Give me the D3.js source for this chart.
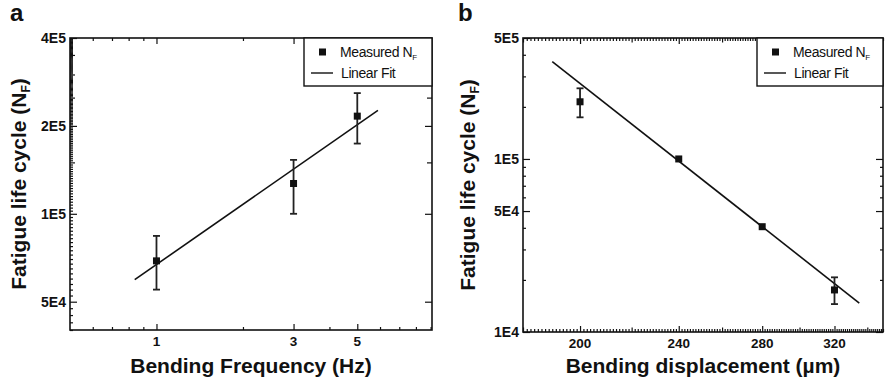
<!DOCTYPE html>
<html>
<head>
<meta charset="utf-8">
<script src="https://cdn.jsdelivr.net/npm/d3@7"></script>
<style>
  html, body { margin: 0; padding: 0; background: #fff; }
  svg { display: block; }
  text { font-family: "Liberation Sans", Arial, sans-serif; fill: #111; }
</style>
</head>
<body>
<svg id="chart" width="885" height="383"></svg>
<script>
// Panel a: fatigue life vs bending frequency
const freqHz = [1, 3, 5];
const freqCycles = [6.9e4, 1.27e5, 2.16e5];
const freqErrLow = [5.5e4, 1.0e5, 1.74e5];
const freqErrHigh = [8.4e4, 1.53e5, 2.59e5];
const freqFitX = [0.84, 5.9];
const freqFitY = [5.95e4, 2.26e5];
const freqXTicks = [1, 3, 5];
const freqXTickLabels = ["1", "3", "5"];
const freqYTicks = [5e4, 1e5, 2e5, 4e5];
const freqYTickLabels = ["5E4", "1E5", "2E5", "4E5"];

// Panel b: fatigue life vs bending displacement
const dispUm = [200, 240, 280, 320];
const dispCycles = [2.14e5, 1.0e5, 4.06e4, 1.75e4];
const dispErrLow = [1.74e5, 1.0e5, 4.06e4, 1.45e4];
const dispErrHigh = [2.56e5, 1.0e5, 4.06e4, 2.07e4];
const dispFitX = [190, 335];
const dispFitY = [3.65e5, 1.47e4];
const dispXTicks = [200, 240, 280, 320];
const dispXTickLabels = ["200", "240", "280", "320"];
const dispYTicks = [1e4, 5e4, 1e5, 5e5];
const dispYTickLabels = ["1E4", "5E4", "1E5", "5E5"];

const svg = d3.select("#chart");

function range(a, b, step) {
  const out = [];
  for (let v = a; v <= b + step * 1e-6; v += step) out.push(+v.toPrecision(10));
  return out;
}

function drawPanel(cfg) {
  const g = svg.append("g");
  const x = d3.scaleLog().domain(cfg.xDomain).range([cfg.left, cfg.right]);
  const y = d3.scaleLog().domain(cfg.yDomain).range([cfg.bottom, cfg.top]);

  // ticks drawn inward on all four sides
  function tickSet(scale, values, len, orient, pos) {
    const axis = (orient === "bottom" ? d3.axisBottom(scale) :
                  orient === "top" ? d3.axisTop(scale) :
                  orient === "left" ? d3.axisLeft(scale) : d3.axisRight(scale))
      .tickValues(values).tickSizeInner(-len).tickSizeOuter(0).tickFormat("");
    const t = orient === "bottom" || orient === "top" ? `translate(0,${pos})` : `translate(${pos},0)`;
    const ag = g.append("g").attr("transform", t).call(axis);
    ag.select(".domain").remove();
    ag.selectAll("line").attr("stroke", "#111").attr("stroke-width", 1.2);
  }

  // x ticks
  tickSet(x, cfg.xMinor, 3, "bottom", cfg.bottom);
  tickSet(x, cfg.xMid, 4.5, "bottom", cfg.bottom);
  tickSet(x, cfg.xTicks, 6, "bottom", cfg.bottom);
  tickSet(x, cfg.xMinor, 3, "top", cfg.top);
  tickSet(x, cfg.xMid, 4.5, "top", cfg.top);
  tickSet(x, cfg.xTicks, 6, "top", cfg.top);
  // y ticks
  tickSet(y, cfg.yMinor, 3, "left", cfg.left);
  tickSet(y, cfg.yMid, 5, "left", cfg.left);
  tickSet(y, cfg.yTicks, 7, "left", cfg.left);
  tickSet(y, cfg.yRightMinor, 3, "right", cfg.right);
  tickSet(y, cfg.yMid, 5, "right", cfg.right);
  tickSet(y, cfg.yTicks, 7, "right", cfg.right);

  // tick labels
  g.append("g").selectAll("text").data(cfg.xTicks).join("text")
    .attr("x", d => x(d)).attr("y", cfg.bottom + cfg.xLabelOffset)
    .attr("text-anchor", "middle").attr("font-size", 13.5).attr("font-weight", "bold")
    .text((d, i) => cfg.xTickLabels[i]);
  g.append("g").selectAll("text").data(cfg.yTicks).join("text")
    .attr("x", cfg.left - 4).attr("y", d => y(d)).attr("dy", "0.36em")
    .attr("text-anchor", "end").attr("font-size", 14).attr("font-weight", "bold")
    .text((d, i) => cfg.yTickLabels[i]);

  // fit line
  const line = d3.line().x(d => x(d[0])).y(d => y(d[1]));
  g.append("path").datum(cfg.fitX.map((v, i) => [v, cfg.fitY[i]]))
    .attr("d", line).attr("fill", "none").attr("stroke", "#111").attr("stroke-width", 1.6);

  // error bars
  const eb = g.append("g").attr("stroke", "#222").attr("stroke-width", 1.8);
  cfg.xs.forEach((xv, i) => {
    if (cfg.errHigh[i] === cfg.errLow[i]) return;
    const cx = x(xv);
    eb.append("line").attr("x1", cx).attr("x2", cx).attr("y1", y(cfg.errLow[i])).attr("y2", y(cfg.errHigh[i]));
    eb.append("line").attr("x1", cx - 3.5).attr("x2", cx + 3.5).attr("y1", y(cfg.errLow[i])).attr("y2", y(cfg.errLow[i]));
    eb.append("line").attr("x1", cx - 3.5).attr("x2", cx + 3.5).attr("y1", y(cfg.errHigh[i])).attr("y2", y(cfg.errHigh[i]));
  });

  // measured points
  const s = 7;
  g.append("g").selectAll("rect").data(cfg.xs).join("rect")
    .attr("x", d => x(d) - s / 2).attr("y", (d, i) => y(cfg.ys[i]) - s / 2)
    .attr("width", s).attr("height", s).attr("fill", "#111");

  // frame
  g.append("rect").attr("x", cfg.left).attr("y", cfg.top)
    .attr("width", cfg.right - cfg.left).attr("height", cfg.bottom - cfg.top)
    .attr("fill", "none").attr("stroke", "#111").attr("stroke-width", 1.6);

  // legend
  const lg = g.append("g");
  lg.append("rect").attr("x", cfg.legendLeft).attr("y", cfg.top)
    .attr("width", cfg.right - cfg.legendLeft).attr("height", 48)
    .attr("fill", "#fff").attr("stroke", "#111").attr("stroke-width", 1.4);
  lg.append("rect").attr("x", cfg.legendLeft + 15).attr("y", cfg.top + 10.5)
    .attr("width", 7).attr("height", 7).attr("fill", "#111");
  const t1 = lg.append("text").attr("x", cfg.legendLeft + 36).attr("y", cfg.top + 19)
    .attr("font-size", 14).attr("letter-spacing", -0.4);
  t1.append("tspan").text("Measured N");
  t1.append("tspan").attr("font-size", 8).attr("dy", 3).text("F");
  lg.append("line").attr("x1", cfg.legendLeft + 7).attr("x2", cfg.legendLeft + 29)
    .attr("y1", cfg.top + 35).attr("y2", cfg.top + 35).attr("stroke", "#111").attr("stroke-width", 1.4);
  lg.append("text").attr("x", cfg.legendLeft + 37).attr("y", cfg.top + 40)
    .attr("font-size", 14).attr("letter-spacing", -0.4).text("Linear Fit");

  // axis titles
  g.append("text").attr("x", (cfg.left + cfg.right) / 2).attr("y", 373)
    .attr("text-anchor", "middle").attr("font-size", 21).attr("font-weight", "bold")
    .text(cfg.xTitle);
  const yt = g.append("text")
    .attr("transform", `translate(${cfg.yTitleX},${(cfg.top + cfg.bottom) / 2}) rotate(-90)`)
    .attr("text-anchor", "middle").attr("font-size", 21).attr("font-weight", "bold");
  yt.append("tspan").text("Fatigue life cycle (N");
  yt.append("tspan").attr("font-size", 12).attr("dy", 4).text("F");
  yt.append("tspan").attr("dy", -4).text(")");

  // panel letter
  g.append("text").attr("x", cfg.letterX).attr("y", 21)
    .attr("font-size", 24).attr("font-weight", "bold").text(cfg.letter);
}

// minor tick values for panel a (linear steps inside each log interval)
const aYMinor = range(4e4, 4e5, 2.5e3).filter(v => !freqYTicks.includes(v) && v % 5e4 !== 0);
const aYMid = range(5e4, 4e5, 5e4).filter(v => !freqYTicks.includes(v));
const aXMinor = [0.6, 0.7, 0.8, 0.9, 2, 4, 6, 7, 8, 9];

drawPanel({
  letter: "a", letterX: 10,
  left: 70, right: 432, top: 38, bottom: 330,
  xDomain: [0.5, 9.1], yDomain: [4e4, 4e5],
  xs: freqHz, ys: freqCycles, errLow: freqErrLow, errHigh: freqErrHigh,
  fitX: freqFitX, fitY: freqFitY,
  xTicks: freqXTicks, xTickLabels: freqXTickLabels, xMinor: aXMinor, xMid: [],
  yTicks: freqYTicks, yTickLabels: freqYTickLabels,
  yMinor: aYMinor, yMid: aYMid, yRightMinor: [],
  xLabelOffset: 16,
  legendLeft: 304,
  xTitle: "Bending Frequency (Hz)", yTitleX: 26
});

// minor tick values for panel b
const bXAll = range(180, 350, 1.25);
const bXMid = range(180, 340, 20).filter(v => !dispXTicks.includes(v));
const bXMinor = bXAll.filter(v => v % 20 !== 0);
const bYMinor = [2e4, 3e4, 4e4, 6e4, 7e4, 8e4, 9e4, 2e5, 3e5, 4e5];

drawPanel({
  letter: "b", letterX: 458,
  left: 523, right: 883, top: 38, bottom: 332,
  xDomain: [180, 350], yDomain: [1e4, 5e5],
  xs: dispUm, ys: dispCycles, errLow: dispErrLow, errHigh: dispErrHigh,
  fitX: dispFitX, fitY: dispFitY,
  xTicks: dispXTicks, xTickLabels: dispXTickLabels, xMinor: bXMinor, xMid: bXMid,
  yTicks: dispYTicks, yTickLabels: dispYTickLabels,
  yMinor: bYMinor, yMid: [], yRightMinor: bYMinor,
  xLabelOffset: 16,
  legendLeft: 757,
  xTitle: "Bending displacement (\u00b5m)", yTitleX: 475
});
</script>
</body>
</html>
